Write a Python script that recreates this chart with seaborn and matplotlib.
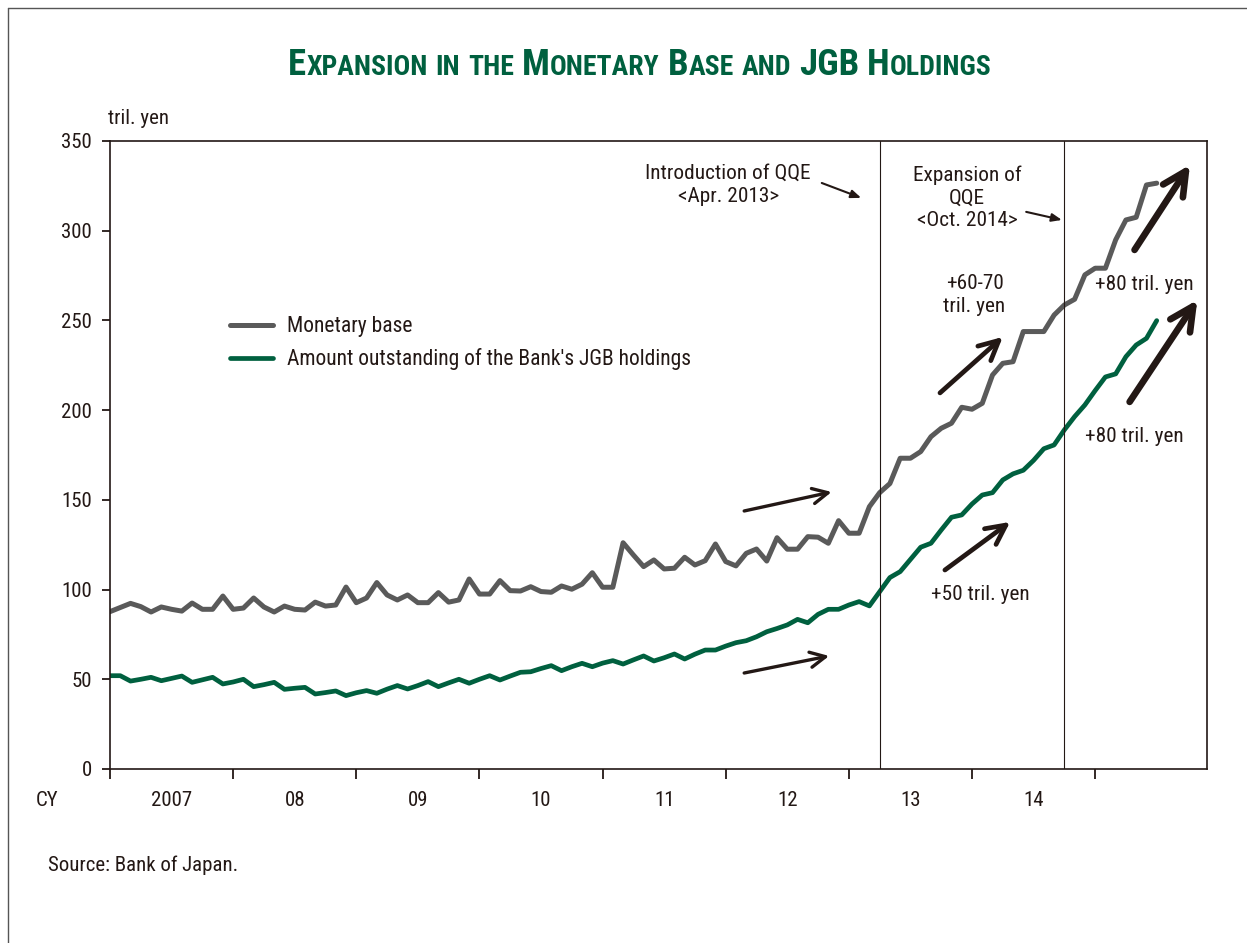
import numpy as np
import pandas as pd
import seaborn as sns
import matplotlib.pyplot as plt
from matplotlib import font_manager
from matplotlib.lines import Line2D

# monthly averages, tril. yen, Jan 2007 - Jul 2015
monetary_base = [
    87.7, 90.0, 92.3, 90.5, 87.5, 90.3, 89.0, 88.0, 92.5, 89.0, 89.0, 96.4,
    89.0, 89.7, 95.3, 90.3, 87.5, 90.8, 89.0, 88.6, 93.0, 90.8, 91.4, 101.4,
    92.7, 95.3, 103.9, 97.0, 94.2, 97.0, 92.7, 92.7, 98.3, 93.0, 94.2, 105.9,
    97.5, 97.5, 105.0, 99.4, 99.2, 101.6, 98.9, 98.5, 102.0, 100.2, 103.0, 109.4,
    101.3, 101.3, 126.1, 119.3, 112.8, 116.5, 111.5, 111.9, 118.0, 113.7, 116.1, 125.4,
    115.6, 113.2, 120.2, 122.6, 115.9, 128.9, 122.5, 122.5, 129.5, 129.2, 125.8, 138.4,
    131.4, 131.4, 146.2, 154.0, 159.1, 173.2, 173.2, 176.9, 185.2, 189.9, 192.7, 201.6,
    200.5, 203.8, 219.6, 226.1, 227.0, 243.8, 243.8, 243.8, 253.0, 258.6, 261.8, 275.4,
    279.1, 279.1, 294.9, 306.0, 307.5, 325.5, 326.5,
]
jgb_holdings = [
    52.0, 52.0, 49.0, 50.0, 51.1, 49.2, 50.5, 51.8, 48.3, 49.7, 51.1, 47.4,
    48.5, 50.0, 45.9, 47.0, 48.3, 44.4, 45.0, 45.5, 41.8, 42.6, 43.5, 40.9,
    42.5, 43.7, 42.2, 44.5, 46.5, 44.6, 46.5, 48.7, 45.9, 48.0, 50.0, 47.8,
    50.0, 52.0, 49.6, 51.8, 53.9, 54.2, 56.0, 57.6, 54.8, 57.0, 58.9, 57.0,
    59.0, 60.4, 58.5, 60.8, 63.0, 60.2, 62.0, 64.1, 61.3, 64.0, 66.3, 66.3,
    68.5, 70.4, 71.5, 73.7, 76.5, 78.3, 80.3, 83.4, 81.5, 86.2, 89.0, 89.0,
    91.4, 93.3, 90.9, 98.8, 106.7, 110.0, 116.8, 123.6, 125.8, 133.2, 140.3, 141.6,
    147.7, 152.7, 154.0, 161.1, 164.5, 166.5, 172.0, 178.5, 180.6, 189.0, 196.4, 202.9,
    210.9, 218.5, 220.2, 229.8, 236.3, 240.0, 249.9,
]
years = [2007, 2008, 2009, 2010, 2011, 2012, 2013, 2014]
year_labels = ["2007", "08", "09", "10", "11", "12", "13", "14"]
series_labels = ["Monetary base", "Amount outstanding of the Bank's JGB holdings"]
events = [2013 + 3 / 12, 2014 + 9 / 12]   # Apr. 2013, Oct. 2014

months = pd.date_range("2007-01-01", periods=len(monetary_base), freq="MS")
df = pd.DataFrame({
    "t": months.year + (months.month - 1) / 12,
    "base": monetary_base,
    "jgb": jgb_holdings,
})

# pick the narrowest sans face that is installed
fl = font_manager.fontManager.ttflist
names = {f.name for f in fl}
STRETCH = "normal"
if "Liberation Sans Narrow" in names:
    FONT = "Liberation Sans Narrow"
elif "Roboto Condensed" in names:
    FONT = "Roboto Condensed"
elif any(f.name == "DejaVu Sans" and "condensed" in str(f.stretch) for f in fl):
    FONT, STRETCH = "DejaVu Sans", "condensed"
elif "Liberation Sans" in names:
    FONT = "Liberation Sans"
else:
    FONT = "DejaVu Sans"

sns.set_theme(style="white")
plt.rcParams["font.family"] = [FONT, "DejaVu Sans"]
plt.rcParams["font.stretch"] = STRETCH

GRAY = "#5a5a5a"
GREEN = "#00603f"
INK = "#231815"

W, H = 1247, 943
fig = plt.figure(figsize=(W / 100, H / 100), dpi=100)
ax = fig.add_axes([110 / W, 1 - 769 / H, (1207 - 110) / W, (769 - 141) / H])

sns.lineplot(data=df, x="t", y="base", ax=ax, color=GRAY, lw=3.6, label=series_labels[0])
sns.lineplot(data=df, x="t", y="jgb", ax=ax, color=GREEN, lw=3.4, label=series_labels[1])

for ev in events:
    ax.axvline(ev, color=INK, lw=0.8)

ax.set_xlim(2007, 2015 + 10.9 / 12)
ax.set_ylim(0, 350)
ax.set_yticks(range(0, 351, 50))
ax.set_xticks(years + [2015])
ax.set_xticklabels([])
ax.set_xticks([y + 0.5 for y in years], minor=True)
ax.set_xticklabels(year_labels, minor=True)
ax.tick_params(axis="x", which="major", bottom=True, direction="out", length=7,
               width=1.3, color=INK)
ax.tick_params(axis="x", which="minor", bottom=True, length=0, pad=16, labelsize=15,
               labelcolor=INK)
ax.tick_params(axis="y", left=True, direction="out", length=6, width=1.3, color=INK,
               labelsize=15, labelcolor=INK, pad=7)
ax.set_xlabel("")
ax.set_ylabel("")
for s in ax.spines.values():
    s.set_color(INK)
    s.set_linewidth(1.2)

leg = ax.legend(loc="upper left", bbox_to_anchor=(0.092, 0.752), frameon=False,
                fontsize=15.5, handlelength=2.0, handletextpad=0.62, labelspacing=0.52)
for t in leg.get_texts():
    t.set_color(INK)

txt = dict(color=INK, fontsize=15.3, ha="center", va="center", linespacing=1.25)
ax.text(2012.02, 325.5, "Introduction of QQE\n<Apr. 2013>", **txt)
ax.text(2013.96, 318.3, "Expansion of\nQQE\n<Oct. 2014>", **txt)
ax.text(2014.02, 264.2, "+60-70\ntril. yen", **txt)
ax.text(2015.40, 270.3, "+80 tril. yen", **txt)
ax.text(2015.32, 185.1, "+80 tril. yen", **txt)
ax.text(2014.07, 97.0, "+50 tril. yen", **txt)

small = dict(arrowstyle="-|>,head_length=0.5,head_width=0.2", color=INK, lw=1.5,
             shrinkA=0, shrinkB=0)
ax.annotate("", xy=(2013.10, 318.3), xytext=(2012.78, 326.6), arrowprops=small)
ax.annotate("", xy=(2014.73, 306.0), xytext=(2014.44, 310.5), arrowprops=small)

big_arrows = [
    ((2012.15, 143.8), (2012.86, 154.4), 2.4, 0.55),
    ((2012.15, 53.5), (2012.84, 63.0), 2.4, 0.55),
    ((2013.74, 209.6), (2014.25, 240.8), 3.4, 0.7),
    ((2013.78, 110.9), (2014.31, 137.7), 3.4, 0.7),
    ((2015.32, 289.3), (2015.77, 336.7), 4.8, 0.85),
    ((2015.28, 204.6), (2015.83, 261.4), 4.8, 0.85),
]
for start, end, lw, hs in big_arrows:
    ax.annotate("", xy=end, xytext=start,
                arrowprops=dict(arrowstyle=f"->,head_length={hs},head_width={hs * 0.5}",
                                color=INK, lw=lw, shrinkA=0, shrinkB=0, mutation_scale=20))

fig.text(108 / W, 1 - 118 / H, "tril. yen", fontsize=15, color=INK, va="center", ha="left")
fig.text(47 / W, 1 - 800 / H, "CY", fontsize=15, color=INK, va="center", ha="center")
fig.text(48 / W, 1 - 865 / H, "Source: Bank of Japan.", fontsize=15, color=INK,
         va="center", ha="left")

# frame lines on the left and top of the page
fig.add_artist(Line2D([8 / W, 8 / W], [0, 1 - 8 / H], color="#555555", lw=1))
fig.add_artist(Line2D([8 / W, 1], [1 - 8 / H, 1 - 8 / H], color="#555555", lw=1))

# title in small caps, drawn run by run
words = ["Expansion", "in", "the", "Monetary", "Base", "and", "JGB", "Holdings"]
BIG, SMALL = 26.5, 20
runs = []
for w in words:
    cur, size = "", None
    for ch in w:
        sz = BIG if ch.isupper() else SMALL
        if size is not None and sz != size:
            runs.append((cur, size, False))
            cur = ""
        cur += ch.upper()
        size = sz
    runs.append((cur, size, True))

fig.canvas.draw()
renderer = fig.canvas.get_renderer()
base_y = 1 - 75 / H
gap = 8
pieces, x = [], 0.0
for text, size, word_end in runs:
    t = fig.text(0, base_y, text, fontsize=size, fontweight="bold", color=GREEN,
                 va="baseline", ha="left")
    wpx = t.get_window_extent(renderer).width
    pieces.append((t, x))
    x += wpx + (gap if word_end else 0)
total = x - gap
left = 640 - total / 2
for t, off in pieces:
    t.set_x((left + off) / W)

fig.savefig("out.png", dpi=100)
